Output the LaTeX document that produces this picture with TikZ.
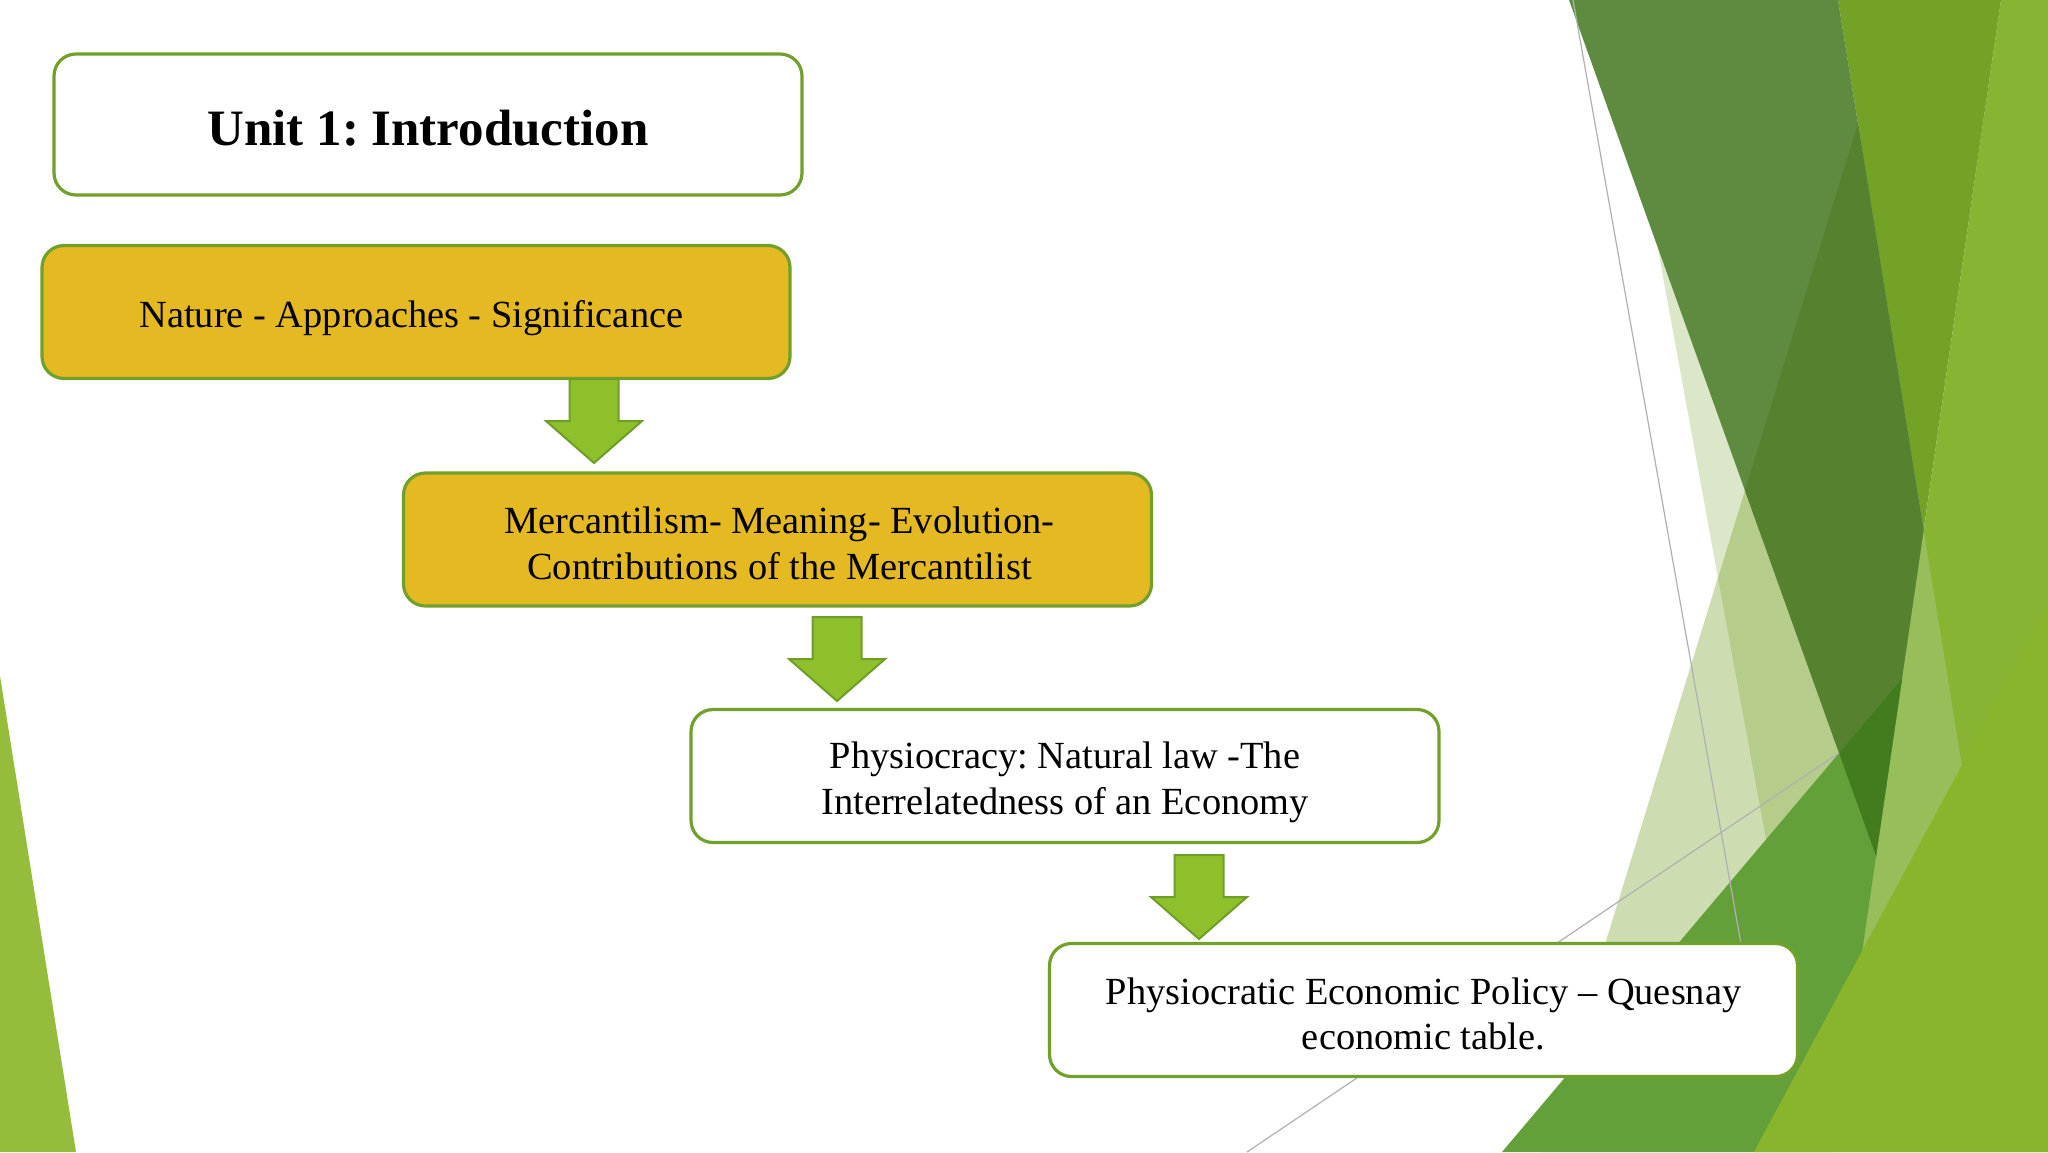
\documentclass[tikz,border=0pt]{standalone}
\usepackage{fontspec}
\setmainfont{Liberation Serif}
\frenchspacing
\definecolor{bordergreen}{HTML}{71A02B}
\definecolor{goldfill}{HTML}{E4B921}
\definecolor{arrowfill}{HTML}{8DC02B}
\definecolor{arrowedge}{HTML}{6F9E28}
\definecolor{facetA}{HTML}{5F8B41}
\definecolor{facetAd}{HTML}{56812F}
\definecolor{facetB}{HTML}{73A227}
\definecolor{facetC}{HTML}{87B433}
\definecolor{facetR}{HTML}{98BE5C}
\definecolor{facetE}{HTML}{64A03A}
\definecolor{facetG}{HTML}{437C1F}
\definecolor{facetF}{HTML}{88B52B}
\definecolor{paleQ}{HTML}{DCE6C8}
\definecolor{paleP}{HTML}{CEDCB1}
\definecolor{palePQ}{HTML}{B6CC8B}
\definecolor{leftgreen}{HTML}{95BC3A}
\definecolor{thinline}{HTML}{B0B0B0}
\begin{document}
\begin{tikzpicture}[x=0.5pt,y=-0.5pt,
  box/.style={draw=bordergreen, line width=1.6pt, rounded corners=11pt,
    minimum width=374pt, minimum height=66.5pt, inner sep=0pt, outer sep=0pt},
  whitebox/.style={box, fill=white},
  goldbox/.style={box, fill=goldfill},
  boxtext/.style={inner sep=0pt, align=center, text=black,
    font=\fontsize{19.2pt}{22.9pt}\selectfont},
  titletext/.style={inner sep=0pt, align=center, text=black,
    font=\fontsize{25.5pt}{30pt}\selectfont\bfseries},
  hairline/.style={draw=thinline, line width=0.6pt},
  downarr/.pic={\draw[fill=arrowfill, draw=arrowedge, line width=1pt, line join=miter]
      (-24.5,0) -- (24.5,0) -- (24.5,42) -- (48,42) -- (0,84) -- (-48,42) -- (-24.5,42) -- cycle;}
]
\useasboundingbox (0,0) rectangle (2048,1152);
\fill[white] (0,0) rectangle (2048,1152);

% background facets (right)
\fill[facetC] (2001,0) -- (2048,0) -- (2048,1152) -- (1833,1152) -- cycle;
\fill[facetB] (1838,0) -- (2001,0) -- (1923.6,530) -- cycle;
\fill[facetR] (1923.6,530) -- (1962,766) -- (1862,951) -- cycle;
\fill[paleP] (1858,123) -- (1900,400) -- (1875,860) -- (1833,1152) -- (1541,1152) -- cycle;
\fill[paleQ] (1657.6,247) -- (1718,578) -- (1745,490.5) -- cycle;
\fill[palePQ] (1718,578) -- (1766,839.5) -- (1839,753) -- (1745,490.5) -- cycle;
\fill[facetA] (1569,0) -- (1838,0) -- (1923.6,530) -- (1876,856) -- cycle;
\fill[facetAd] (1858,123) -- (1923.6,530) -- (1876,856) -- (1745,490.5) -- cycle;
\fill[facetE] (1502,1152) -- (1902,678.5) -- (1833,1152) -- cycle;
\fill[facetG] (1839,753) -- (1902,678.5) -- (1876,856) -- cycle;
\fill[facetF] (2048,605) -- (2048,1152) -- (1754,1152) -- cycle;
% background facet (left)
\fill[leftgreen] (0,676) -- (0,1152) -- (76,1152) -- cycle;
% thin lines
\draw[hairline] (1573,0) -- (1741,944);
\draw[hairline] (1247,1152) -- (1839,753);

% boxes
\node[whitebox, minimum height=70.5pt] (b1) at (428,124.5) {};
\node[goldbox] (b2) at (416,312) {};
\node[goldbox] (b3) at (777.5,539.5) {};
\node[whitebox] (b4) at (1065,776) {};
\node[whitebox] (b5) at (1423.5,1010) {};

% box texts
\node[titletext] (t1) at ([yshift=-2pt]b1.center) {Unit 1: Introduction};
\node[boxtext] (t2) at ([xshift=-2.3pt,yshift=-3pt]b2.center) {Nature - Approaches - Significance};
\node[boxtext] (t3) at ([xshift=1pt,yshift=-2pt]b3.center) {Mercantilism- Meaning- Evolution-\\Contributions of the Mercantilist};
\node[boxtext] (t4) at ([yshift=-3pt]b4.center) {Physiocracy: Natural law -The\\Interrelatedness of an Economy};
\node[boxtext] (t5) at ([yshift=-2pt]b5.center) {Physiocratic Economic Policy -- Quesnay\\economic table.};

% block arrows
\coordinate (a1) at (594,379);
\coordinate (a2) at (837,617);
\coordinate (a3) at (1199,855);
\pic at (a1) {downarr};
\pic at (a2) {downarr};
\pic at (a3) {downarr};
\end{tikzpicture}
\end{document}
